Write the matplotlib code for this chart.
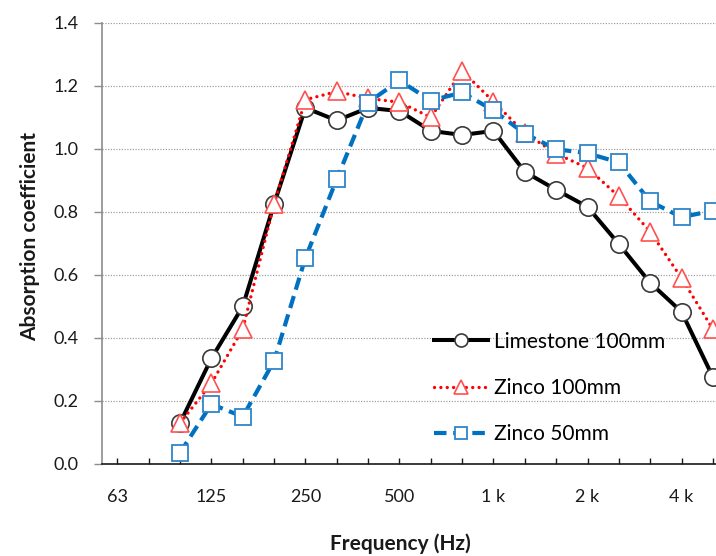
import matplotlib
matplotlib.use("Agg")
import matplotlib.pyplot as plt

freq_bands = ["63", "80", "100", "125", "160", "200", "250", "315", "400", "500",
              "630", "800", "1 k", "1250", "1600", "2 k", "2500", "3150", "4 k", "5000"]
tick_labels = ["63", "", "", "125", "", "", "250", "", "", "500",
               "", "", "1 k", "", "", "2 k", "", "", "4 k", ""]

data_bands = ["100", "125", "160", "200", "250", "315", "400", "500", "630", "800",
              "1 k", "1250", "1600", "2 k", "2500", "3150", "4 k", "5000"]
limestone_100 = [0.13, 0.335, 0.50, 0.825, 1.13, 1.09, 1.13, 1.12, 1.057, 1.044,
                 1.057, 0.927, 0.87, 0.816, 0.698, 0.575, 0.483, 0.276]
zinco_100 = [0.13, 0.256, 0.428, 0.825, 1.156, 1.182, 1.16, 1.148, 1.10, 1.247,
             1.15, 1.05, 0.985, 0.939, 0.849, 0.737, 0.59, 0.428]
zinco_50 = [0.036, 0.19, 0.15, 0.327, 0.654, 0.904, 1.147, 1.217, 1.153, 1.179,
            1.122, 1.048, 0.999, 0.986, 0.957, 0.833, 0.783, 0.804]

plt.rcParams['font.family'] = ['Lato', 'DejaVu Sans']

fig = plt.figure(figsize=(7.16, 5.56), dpi=100)
ax = fig.add_axes([0.1425, 0.1655, 0.8575, 0.7935])

xs = [freq_bands.index(b) for b in data_bands]

ax.plot(xs, limestone_100, color='black', lw=2.9, marker='o', ms=12.5,
        mfc='white', mec='#3a3a3a', mew=1.2, label='Limestone 100mm', zorder=3)
ax.plot(xs, zinco_100, color='#ff0000', lw=2.4, linestyle=(0, (0.01, 1.9)),
        dash_capstyle='round', marker='^', ms=12.5, mfc='white', mec='#ff5050',
        mew=1.2, label='Zinco 100mm', zorder=4)
ax.plot(xs, zinco_50, color='#0070c0', lw=3.0, linestyle=(0, (3.0, 1.6)),
        marker='s', ms=12, mfc='white', mec='#2f85c9', mew=1.3,
        label='Zinco 50mm', zorder=5)

ax.set_xlim(-0.49, 19.10)
ax.set_ylim(0, 1.4)
ax.set_yticks([0, 0.2, 0.4, 0.6, 0.8, 1.0, 1.2, 1.4])
ax.set_yticklabels(['0.0', '0.2', '0.4', '0.6', '0.8', '1.0', '1.2', '1.4'])
ax.set_xticks(range(len(freq_bands)))
ax.set_xticklabels(tick_labels)

ax.grid(axis='y', color='#a0a0a0', linestyle=(0, (1, 1.2)), lw=0.9)
ax.set_axisbelow(True)

for s in ['top', 'right']:
    ax.spines[s].set_visible(False)
ax.spines['left'].set_color('#8c8c8c')
ax.spines['left'].set_linewidth(1.2)
ax.spines['bottom'].set_color('#1a1a1a')
ax.spines['bottom'].set_linewidth(1.2)

ax.tick_params(axis='y', direction='out', length=6, width=1.0, color='#8c8c8c',
               labelsize=13, pad=11, labelcolor='#1a1a1a')
ax.tick_params(axis='x', direction='in', length=4.5, width=1.0, color='#1a1a1a',
               labelsize=13, pad=18, labelcolor='#1a1a1a')

fig.text(0.042, 0.575, 'Absorption coefficient', rotation=90, ha='center',
         va='center', fontsize=15, fontweight='bold', color='#1a1a1a')
fig.text(0.559, 0.023, 'Frequency (Hz)', ha='center', va='center',
         fontsize=15, fontweight='bold', color='#1a1a1a')

leg = ax.legend(loc='upper left', bbox_to_anchor=(0.58, 0.437), bbox_transform=fig.transFigure,
                frameon=False, fontsize=15, handlelength=2.6, handletextpad=0.3,
                labelspacing=1.25, markerscale=0.75)

fig.savefig('out.png', dpi=100)
